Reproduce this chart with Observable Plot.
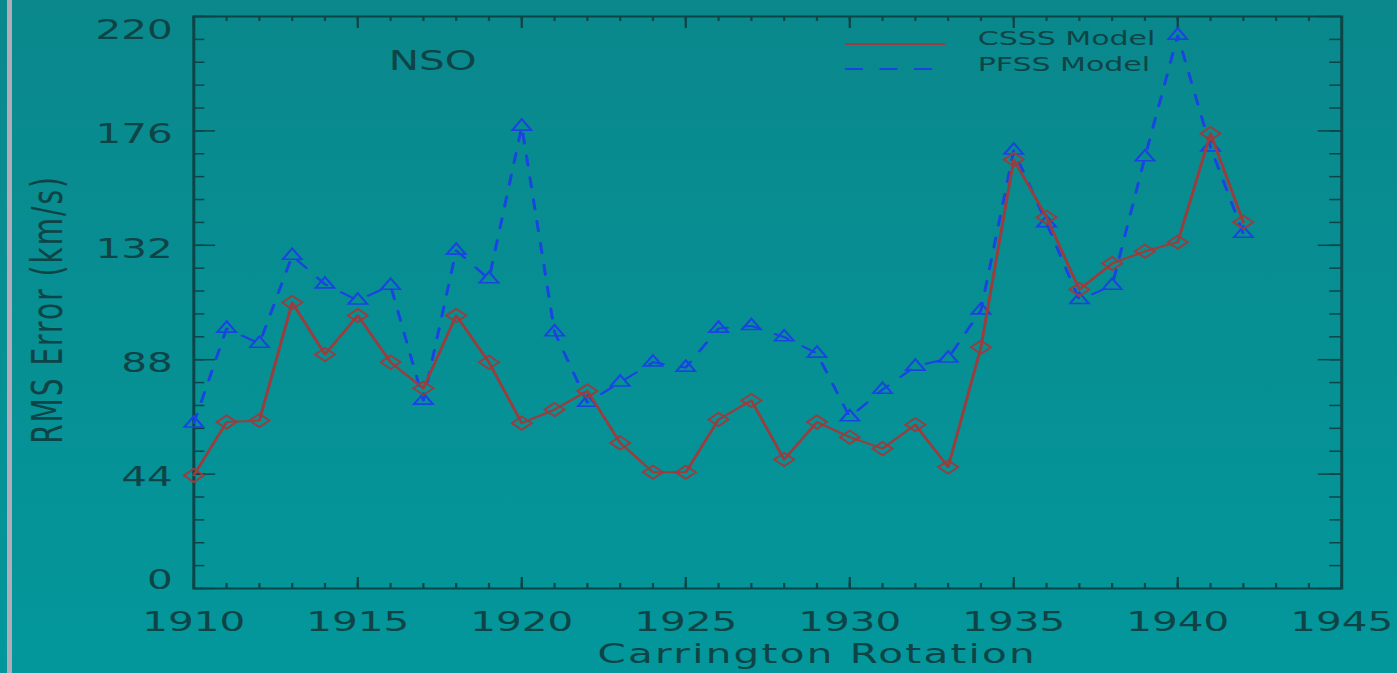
<!DOCTYPE html>
<html>
<head>
<meta charset="utf-8">
<script src="https://cdn.jsdelivr.net/npm/d3@7"></script>
<script src="https://cdn.jsdelivr.net/npm/@observablehq/plot@0.6"></script>
<style>
  html, body { margin: 0; padding: 0; width: 1397px; height: 673px; overflow: hidden;
    background: linear-gradient(#0a888c, #03979b); }
  #stripe { position: absolute; left: 7px; top: 0; width: 5px; height: 673px; background: #b2abb8; }
  #chart { position: absolute; left: 0; top: 0; transform-origin: 0 0; }
</style>
</head>
<body>
<div id="stripe"></div>
<div id="chart"></div>
<script>
// ---- data ----
const rotations = [1910, 1911, 1912, 1913, 1914, 1915, 1916, 1917, 1918, 1919, 1920,
  1921, 1922, 1923, 1924, 1925, 1926, 1927, 1928, 1929, 1930, 1931, 1932, 1933, 1934,
  1935, 1936, 1937, 1938, 1939, 1940, 1941, 1942];
const csssError = [43.5, 64, 64.6, 110, 90, 105, 87, 77, 105, 87, 63.6,
  68.8, 76, 56, 44.7, 44.7, 65, 72.3, 49.6, 64, 58.2, 53.8, 63, 46.7, 92.8,
  165, 142.8, 115, 125, 129.7, 133.2, 175, 140.9];
const pfssError = [63.5, 100, 94.2, 128, 117, 110.8, 116.5, 72.3, 130, 119, 177.7,
  98.6, 71.5, 79.3, 87, 85, 100, 101, 96.7, 90.4, 65.9, 76.5, 85.4, 88.5, 107,
  168.5, 140.5, 111, 116.5, 165.9, 212.7, 169.7, 136.5];
const xTickLabels = [1910, 1915, 1920, 1925, 1930, 1935, 1940, 1945];
const yTickLabels = [0, 44, 88, 132, 176, 220];
const seriesNames = ["CSSS Model", "PFSS Model"];
const panelLabel = "NSO";
const xTitle = "Carrington Rotation";
const yTitle = "RMS Error (km/s)";

// ---- layout / styles ----
const PAGE_W = 1397, H = 673, STRETCH = 1.5;
const W = PAGE_W / STRETCH;
const mL = 128.7, mR = W - 894, mT = 16, mB = 85;
const frameW = W - mL - mR, frameH = H - mT - mB;
const ink = "#0f4446";
const axisInk = "#0c4548";
const red = "#9a3d3f";
const blue = "#1a44e2";

const rowsC = rotations.map((r, i) => ({rot: r, v: csssError[i]}));
const rowsP = rotations.map((r, i) => ({rot: r, v: pfssError[i]}));
const xMinor = d3.range(1910, 1945.01, 1);
const yMinor = d3.range(0, 220.01, 8.8);
const yInner = yTickLabels.filter(d => d !== 0 && d !== 220);

const T = {fill: ink, lineAnchor: "middle"};

const chart = Plot.plot({
  width: W, height: H,
  marginLeft: mL, marginRight: mR, marginTop: mT, marginBottom: mB,
  x: {domain: [1910, 1945], axis: null},
  y: {domain: [0, 220], axis: null},
  style: {background: "transparent", fontFamily: "DejaVu Sans", color: ink, overflow: "visible"},
  marks: [
    // ticks (inward)
    Plot.ruleX(xMinor, {x: d => d, insetTop: frameH - 5, stroke: axisInk, strokeWidth: 1.5}),
    Plot.ruleX(xMinor, {x: d => d, insetBottom: frameH - 5, stroke: axisInk, strokeWidth: 1.5}),
    Plot.ruleX(xTickLabels, {x: d => d, insetTop: frameH - 11, stroke: axisInk, strokeWidth: 1.5}),
    Plot.ruleX(xTickLabels, {x: d => d, insetBottom: frameH - 12, stroke: axisInk, strokeWidth: 1.5}),
    Plot.ruleY(yMinor, {y: d => d, insetRight: frameW - 7.5, stroke: axisInk, strokeWidth: 1.5}),
    Plot.ruleY(yMinor, {y: d => d, insetLeft: frameW - 7.8, stroke: axisInk, strokeWidth: 1.5}),
    Plot.ruleY(yTickLabels, {y: d => d, insetRight: frameW - 14.7, stroke: axisInk, strokeWidth: 1.5}),
    Plot.ruleY(yTickLabels, {y: d => d, insetLeft: frameW - 15.5, stroke: axisInk, strokeWidth: 1.5}),
    Plot.frame({stroke: axisInk, strokeWidth: 2}),
    // tick labels
    Plot.text(xTickLabels, {...T, x: d => d, frameAnchor: "bottom", textAnchor: "middle", dy: 34, text: d => String(d), fontSize: 27}),
    Plot.text(yInner, {...T, y: d => d, frameAnchor: "left", dx: -14, dy: 3.7, textAnchor: "end", text: d => String(d), fontSize: 27}),
    Plot.text([220], {...T, y: d => d, frameAnchor: "left", dx: -14, dy: 13.5, textAnchor: "end", text: d => String(d), fontSize: 27}),
    Plot.text([0], {...T, y: d => d, frameAnchor: "left", dx: -14, dy: -7.8, textAnchor: "end", text: d => String(d), fontSize: 27}),
    // titles
    Plot.text([xTitle], {...T, frameAnchor: "bottom", textAnchor: "middle", dx: 33, dy: 66, text: d => d, fontSize: 27}),
    Plot.text([yTitle], {...T, frameAnchor: "left", textAnchor: "middle", dx: -96.8, dy: 7, rotate: -90, text: d => d, fontSize: 28}),
    Plot.text([panelLabel], {...T, frameAnchor: "top-left", textAnchor: "middle", dx: 159.3, dy: 45, text: d => d, fontSize: 27}),
    // legend labels
    Plot.text([seriesNames[0]], {...T, frameAnchor: "top-left", dx: 522.6, dy: 22.4, textAnchor: "start", text: d => d, fontSize: 20}),
    Plot.text([seriesNames[1]], {...T, frameAnchor: "top-left", dx: 522.6, dy: 48.4, textAnchor: "start", text: d => d, fontSize: 20}),
    // PFSS series
    Plot.line(rowsP, {x: "rot", y: "v", stroke: blue, strokeWidth: 2, strokeDasharray: "10,12"}),
    Plot.dot(rowsP, {x: "rot", y: "v", symbol: "triangle2", r: 6, stroke: blue, strokeWidth: 1.6, fill: "none"}),
    // CSSS series
    Plot.line(rowsC, {x: "rot", y: "v", stroke: red, strokeWidth: 2}),
    Plot.dot(rowsC, {x: "rot", y: "v", symbol: "diamond2", r: 6, stroke: red, strokeWidth: 1.6, fill: "none"})
  ]
});

// legend line samples
const svg = d3.select(chart);
svg.append("line").attr("x1", 563.3).attr("x2", 630).attr("y1", 44).attr("y2", 44)
  .attr("stroke", red).attr("stroke-width", 2);
svg.append("line").attr("x1", 563.3).attr("x2", 623.3).attr("y1", 69).attr("y2", 69)
  .attr("stroke", blue).attr("stroke-width", 2).attr("stroke-dasharray", "12,11");
svg.selectAll("text").filter(function () { return this.textContent === xTitle; })
  .style("letter-spacing", "1.5px");
svg.selectAll("text").filter(function () { return this.textContent === yTitle; })
  .style("letter-spacing", "2px");

const host = document.getElementById("chart");
host.style.transform = `scaleX(${STRETCH})`;
host.appendChild(chart);
</script>
</body>
</html>
